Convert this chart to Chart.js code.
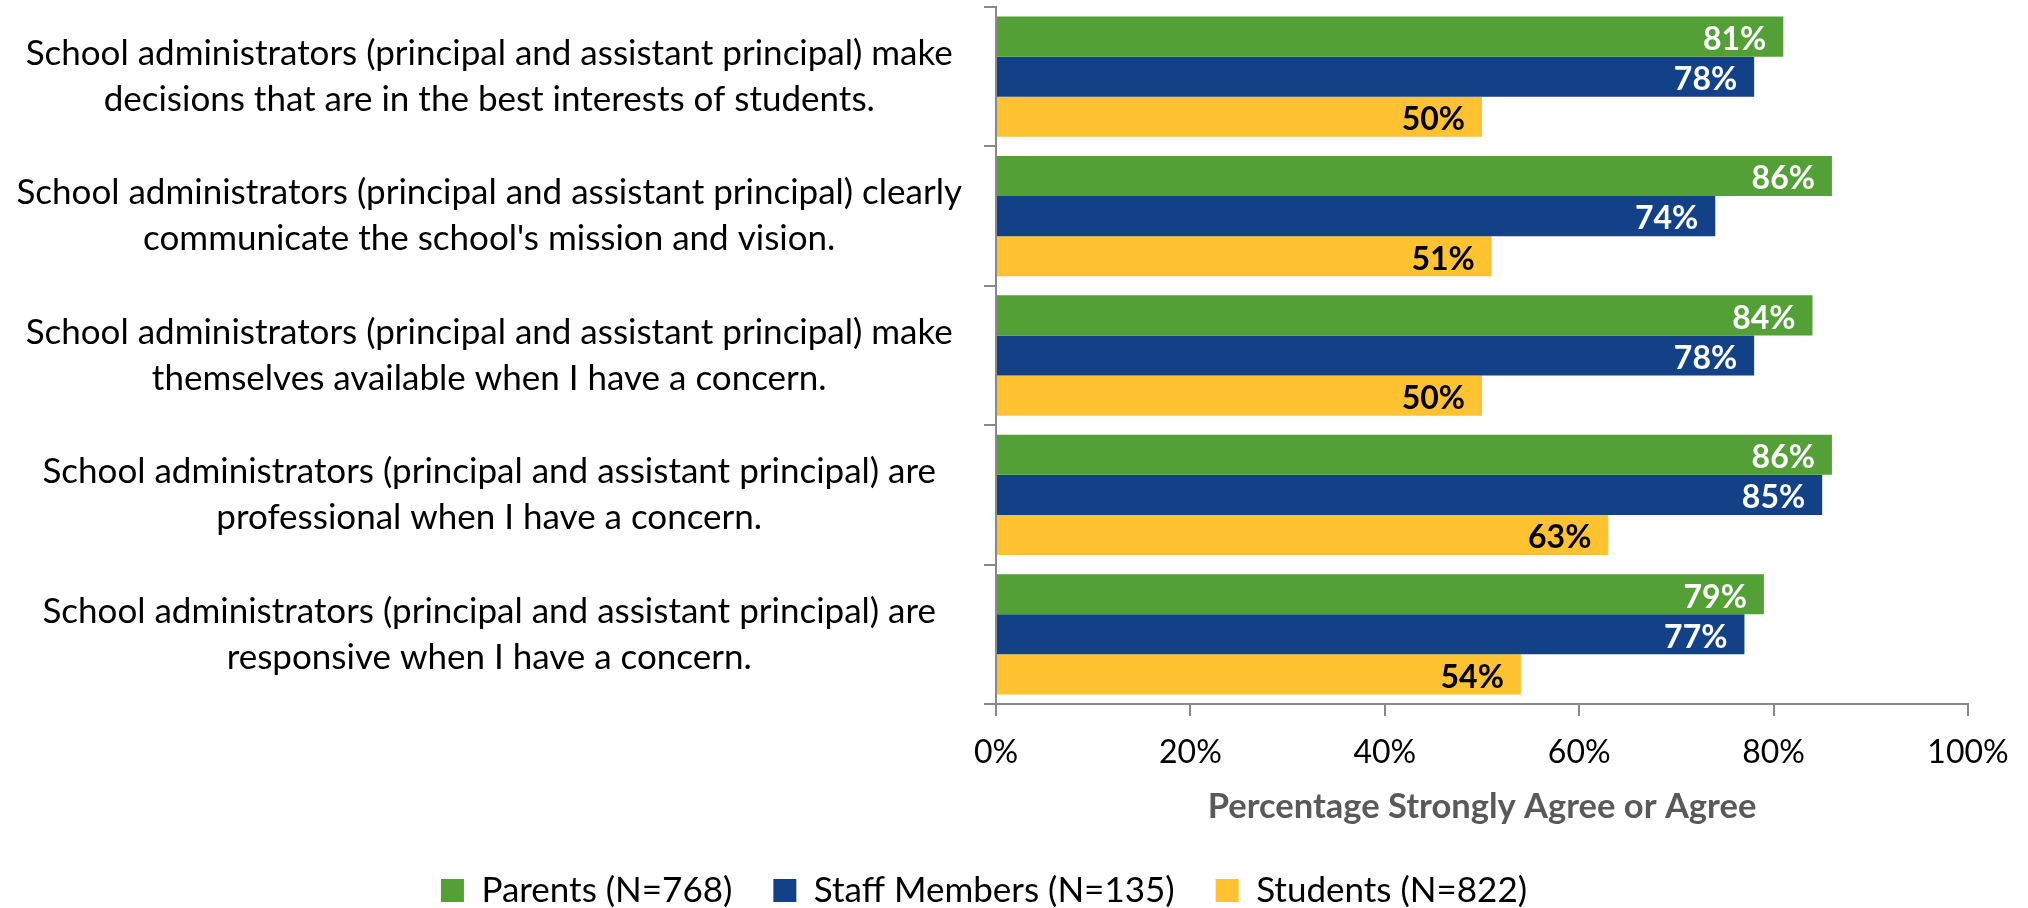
<!DOCTYPE html>
<html>
<head>
<meta charset="utf-8">
<script src="https://cdn.jsdelivr.net/npm/chart.js@4/dist/chart.umd.min.js"></script>
<style>
    html, body { margin: 0; padding: 0; background: #fff; overflow: hidden; }
    .wrap { position: relative; width: 2028px; height: 918px; }
</style>
</head>
<body>
<div class="wrap"><canvas id="surveyChart"></canvas></div>
<script>
// statements (two lines each, as wrapped in the original)
const statements = [
    ['School administrators (principal and assistant principal) make', 'decisions that are in the best interests of students.'],
    ['School administrators (principal and assistant principal) clearly', "communicate the school's mission and vision."],
    ['School administrators (principal and assistant principal) make', 'themselves available when I have a concern.'],
    ['School administrators (principal and assistant principal) are', 'professional when I have a concern.'],
    ['School administrators (principal and assistant principal) are', 'responsive when I have a concern.'],
];

const parents = [81, 86, 84, 86, 79];
const staff = [78, 74, 78, 85, 77];
const students = [50, 51, 50, 63, 54];

const seriesNames = ['Parents (N=768)', 'Staff Members (N=135)', 'Students (N=822)'];
const xTicks = [0, 20, 40, 60, 80, 100];

const FONT = 'Lato';
const AXIS_GREY = '#898989';

// value labels inside the bar ends
const barLabels = {
    id: 'barLabels',
    afterDatasetsDraw(chart) {
        const { ctx } = chart;
        ctx.save();
        ctx.font = `bold 32px ${FONT}`;
        ctx.textAlign = 'right';
        ctx.textBaseline = 'middle';
        chart.data.datasets.forEach((ds, i) => {
            const meta = chart.getDatasetMeta(i);
            ctx.fillStyle = i === 2 ? '#000' : '#fff';
            meta.data.forEach((bar, j) => {
                ctx.fillText(ds.data[j] + '%', bar.x - 17, bar.y + 3);
            });
        });
        ctx.restore();
    },
};

new Chart(document.getElementById('surveyChart').getContext('2d'), {
    type: 'bar',
    data: {
        labels: statements,
        datasets: [
            { label: seriesNames[0], data: parents, backgroundColor: '#53A036' },
            { label: seriesNames[1], data: staff, backgroundColor: '#134187' },
            { label: seriesNames[2], data: students, backgroundColor: '#FFC231' },
        ],
    },
    options: {
        indexAxis: 'y',
        responsive: true,
        maintainAspectRatio: false,
        animation: false,
        categoryPercentage: 0.863,
        barPercentage: 1,
        layout: { padding: { top: 7, right: 60, left: 0, bottom: 0 } },
        plugins: {
            tooltip: { enabled: false },
            legend: {
                position: 'bottom',
                labels: {
                    boxWidth: 23,
                    boxHeight: 23,
                    padding: 41,
                    color: '#000',
                    font: { family: FONT, size: 35 },
                },
            },
        },
        scales: {
            x: {
                min: 0,
                max: 100,
                afterBuildTicks: (s) => { s.ticks = xTicks.map((v) => ({ value: v })); },
                afterFit: (s) => { s.height = 128; },
                border: { color: AXIS_GREY, width: 2 },
                grid: { drawOnChartArea: false, tickLength: 12, color: AXIS_GREY, lineWidth: 2 },
                ticks: {
                    padding: 17,
                    color: '#000',
                    font: { family: FONT, size: 32 },
                    callback: (v) => v + '%',
                },
                title: {
                    display: true,
                    text: 'Percentage Strongly Agree or Agree',
                    color: '#595959',
                    font: { family: FONT, size: 34.5, weight: 'bold' },
                    padding: { top: 0, bottom: 4 },
                },
            },
            y: {
                afterFit: (s) => {
                    s.width = 996;
                    s.paddingTop = 0;
                    s.paddingBottom = 0;
                },
                border: { color: AXIS_GREY, width: 2 },
                grid: { drawOnChartArea: false, tickLength: 12, color: AXIS_GREY, lineWidth: 2 },
                ticks: {
                    padding: 22,
                    crossAlign: 'center',
                    color: '#000',
                    font: { family: FONT, size: 35, lineHeight: 1.314 },
                },
            },
        },
    },
    plugins: [barLabels],
});
</script>
</body>
</html>
